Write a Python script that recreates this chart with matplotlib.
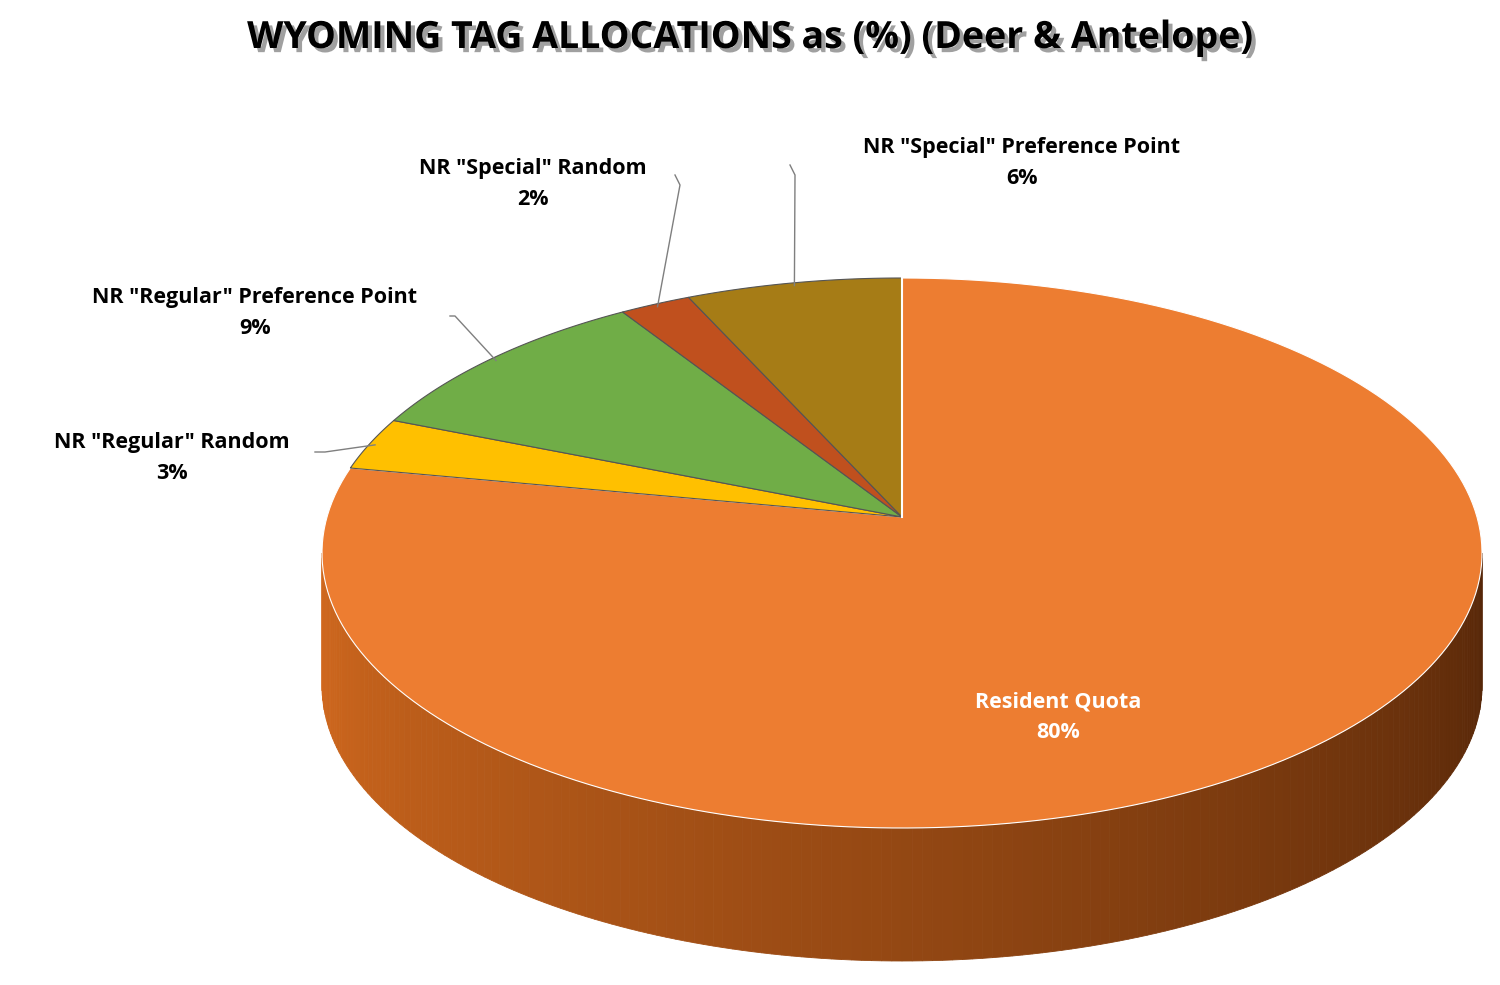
import numpy as np
import matplotlib
matplotlib.use("Agg")
from matplotlib import pyplot as plt
from matplotlib.patches import Polygon
import matplotlib.patheffects as pe

labels = ["Resident Quota", 'NR "Regular" Random', 'NR "Regular" Preference Point',
          'NR "Special" Random', 'NR "Special" Preference Point']
values = [80, 3, 9, 2, 6]
pct_text = ["80%", "3%", "9%", "2%", "6%"]
colors = ["#ED7D31", "#FFC000", "#70AD47", "#C0501E", "#A67C16"]

# geometry of the flattened pie, in pixels
cx, cy = 902, 553
rx, ry = 580, 275
depth = 133
apex = (902, 517)

plt.rcParams['font.family'] = ['Open Sans', 'DejaVu Sans']
fig = plt.figure(figsize=(15, 9.85), dpi=100)
ax = fig.add_axes([0, 0, 1, 1])
ax.set_xlim(0, 1500)
ax.set_ylim(985, 0)
ax.axis("off")


def pt(a, dy=0):
    return cx + rx * np.cos(a), cy - ry * np.sin(a) + dy


# side wall (front half, all resident slice) with left-to-right shading
n = 180
ang = np.linspace(np.pi, 2 * np.pi, n + 1)
base = np.array(matplotlib.colors.to_rgb("#D2691E"))
dark = np.array(matplotlib.colors.to_rgb("#552608"))
for i in range(n):
    a0, a1 = ang[i], ang[i + 1]
    t = i / n
    c = base * (1 - t) + dark * t
    x0, y0 = pt(a0)
    x1, y1 = pt(a1)
    ax.add_patch(Polygon([(x0, y0), (x1, y1), (x1, y1 + depth), (x0, y0 + depth)],
                         closed=True, fc=c, ec=c, lw=0.6))

# top wedges, clockwise from 12 o'clock
start = np.pi / 2
mids = []
for v, col in zip(values, colors):
    span = v / sum(values) * 2 * np.pi
    a = np.linspace(start, start - span, 200)
    xs, ys = pt(a)
    verts = [apex] + list(zip(xs, ys))
    ax.add_patch(Polygon(verts, closed=True, fc=col, ec="#555555" if v < 50 else "white", lw=0.8))
    mids.append(start - span / 2)
    start -= span

ax.plot([apex[0], cx], [apex[1], cy - ry], color="white", lw=1.5)

# title with shadow
title = "WYOMING TAG ALLOCATIONS as (%) (Deer & Antelope)"
ax.text(750, 38, title, ha="center", va="center", fontsize=27, fontweight="bold", color="black",
        path_effects=[pe.withSimplePatchShadow(offset=(3, -3), shadow_rgbFace="#888888", alpha=0.8)])

# slice labels
lab_pos = [(1058, 717), (172, 458), (255, 313), (533, 184), (1022, 163)]
line_ends = [None, (320, 452), (455, 316), (675, 175), (790, 165)]
for i, (x, y) in enumerate(lab_pos):
    col = "white" if i == 0 else "black"
    ax.text(x, y, labels[i] + "\n" + pct_text[i], ha="center", va="center",
            fontsize=15.5, fontweight="bold", color=col, linespacing=1.6)
    if line_ends[i] is not None:
        ex, ey = pt(mids[i])
        ex = cx + (ex - cx) * 0.99
        ey = cy + (ey - cy) * 0.99
        lx, ly = line_ends[i]
        if i in (1, 2):
            ax.plot([lx - 5, lx + 5 if i == 1 else lx, ex], [ly, ly, ey], color="#7F7F7F", lw=1)
        else:
            ax.plot([lx, lx + 5, ex], [ly, ly + 10, ey], color="#7F7F7F", lw=1)

fig.savefig("out.png", dpi=100)
